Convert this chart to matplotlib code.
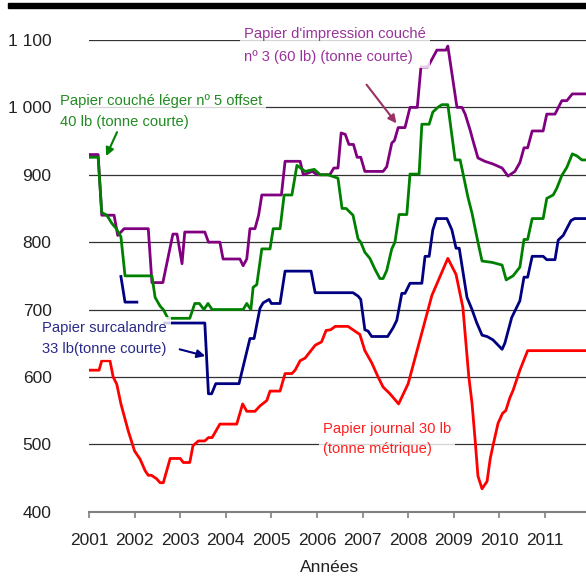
import numpy as np
import matplotlib
matplotlib.use("Agg")
import matplotlib.pyplot as plt
from matplotlib.patches import Rectangle

plt.rcParams['font.family'] = ['Liberation Sans Narrow', 'Liberation Sans', 'DejaVu Sans']

nan = np.nan

# Papier d'impression couché n° 3 (60 lb)
purple_x = [2001.02, 2001.2, 2001.28, 2001.55, 2001.63, 2001.77, 2002.3, 2002.38, 2002.62, 2002.84,
            2002.93, 2003.04, 2003.1, 2003.54, 2003.62, 2003.87, 2003.94, 2004.31, 2004.38, 2004.46,
            2004.53, 2004.64, 2004.72, 2004.79, 2005.22, 2005.3, 2005.63, 2005.7, 2005.9, 2006.0,
            2006.28, 2006.37, 2006.46, 2006.53, 2006.62, 2006.7, 2006.8, 2006.88, 2006.96, 2007.05,
            2007.45, 2007.53, 2007.64, 2007.7, 2007.78, 2007.93, 2008.04, 2008.2, 2008.28, 2008.43,
            2008.63, 2008.83, 2008.87, 2009.07, 2009.18, 2009.25, 2009.36, 2009.42, 2009.53, 2009.68,
            2009.86, 2010.06, 2010.19, 2010.34, 2010.45, 2010.54, 2010.62, 2010.72, 2010.96, 2011.04,
            2011.22, 2011.37, 2011.48, 2011.6, 2011.9]
purple_y = [930, 930, 840, 840, 810, 820, 820, 740, 740, 812,
            812, 768, 815, 815, 800, 800, 775, 775, 765, 775,
            820, 820, 840, 870, 870, 920, 920, 900, 905, 900,
            900, 910, 910, 962, 960, 945, 945, 926, 926, 905,
            905, 912, 947, 951, 970, 970, 1000, 1000, 1060, 1060,
            1085, 1085, 1091, 1000, 1000, 990, 966, 951, 925, 920,
            916, 910, 898, 905, 918, 940, 940, 965, 965, 990,
            990, 1010, 1010, 1020, 1020]

# Papier couché léger n° 5 offset 40 lb
green_x = [2001.02, 2001.2, 2001.28, 2001.39, 2001.5, 2001.6, 2001.7, 2001.79, 2002.38, 2002.45,
           2002.56, 2002.63, 2002.73, 2003.21, 2003.32, 2003.42, 2003.52, 2003.61, 2003.7, 2004.38,
           2004.46, 2004.55, 2004.6, 2004.68, 2004.79, 2004.97, 2005.04, 2005.19, 2005.28, 2005.45,
           2005.56, 2005.74, 2005.94, 2006.07, 2006.24, 2006.46, 2006.55, 2006.64, 2006.79, 2006.9,
           2006.96, 2007.05, 2007.16, 2007.27, 2007.38, 2007.45, 2007.53, 2007.64, 2007.71, 2007.8,
           2007.97, 2008.04, 2008.24, 2008.3, 2008.46, 2008.54, 2008.65, 2008.74, 2008.87, 2009.03,
           2009.14, 2009.31, 2009.4, 2009.53, 2009.62, 2009.84, 2010.06, 2010.15, 2010.3, 2010.45,
           2010.54, 2010.62, 2010.72, 2010.96, 2011.04, 2011.18, 2011.26, 2011.37, 2011.48, 2011.6,
           2011.7, 2011.81, 2011.9]
green_y = [926, 926, 844, 840, 828, 820, 808, 750, 750, 718,
           705, 700, 687, 687, 709, 709, 700, 709, 700, 700,
           709, 700, 733, 737, 790, 790, 820, 820, 870, 870,
           914, 905, 908, 900, 900, 895, 850, 850, 840, 805,
           800, 785, 776, 760, 746, 746, 758, 790, 800, 841,
           841, 901, 901, 975, 975, 993, 1000, 1004, 1004, 922,
           922, 867, 843, 800, 772, 770, 766, 744, 750, 763,
           804, 804, 835, 835, 865, 870, 880, 899, 911, 931,
           928, 922, 922]

# Papier surcalandré 33 lb
blue_x = [2001.7, 2001.79, 2002.05, 2002.3, 2002.66, 2003.54, 2003.62, 2003.69, 2003.78, 2004.29,
          2004.53, 2004.62, 2004.75, 2004.82, 2004.95, 2005.0, 2005.19, 2005.3, 2005.87, 2005.96,
          2006.79, 2006.9, 2006.96, 2007.05, 2007.12, 2007.2, 2007.55, 2007.67, 2007.75, 2007.86,
          2007.93, 2008.04, 2008.3, 2008.37, 2008.46, 2008.54, 2008.62, 2008.85, 2008.96, 2009.05,
          2009.12, 2009.29, 2009.4, 2009.5, 2009.62, 2009.73, 2009.86, 2010.06, 2010.12, 2010.27,
          2010.45, 2010.54, 2010.62, 2010.72, 2010.96, 2011.04, 2011.22, 2011.29, 2011.4, 2011.57,
          2011.65, 2011.9]
blue_y = [749, 711, 711, nan, 680, 680, 575, 575, 590, 590,
          657, 657, 702, 710, 715, 709, 709, 757, 757, 725,
          725, 720, 715, 670, 668, 660, 660, 673, 684, 724,
          724, 739, 739, 779, 779, 818, 835, 835, 818, 791,
          791, 718, 700, 681, 662, 660, 655, 641, 650, 688,
          713, 748, 748, 779, 779, 774, 774, 803, 810, 832,
          835, 835]

# Papier journal 30 lb
red_x = [2001.02, 2001.22, 2001.28, 2001.46, 2001.53, 2001.61, 2001.7, 2001.86, 2002.0, 2002.12,
         2002.23, 2002.3, 2002.37, 2002.48, 2002.56, 2002.63, 2002.78, 2003.0, 2003.07, 2003.21,
         2003.28, 2003.4, 2003.54, 2003.62, 2003.7, 2003.87, 2004.24, 2004.37, 2004.46, 2004.64,
         2004.75, 2004.9, 2004.97, 2005.19, 2005.3, 2005.45, 2005.52, 2005.63, 2005.74, 2005.96,
         2006.1, 2006.2, 2006.3, 2006.4, 2006.68, 2006.94, 2007.05, 2007.2, 2007.34, 2007.45,
         2007.6, 2007.79, 2008.0, 2008.52, 2008.87, 2009.05, 2009.2, 2009.33, 2009.4, 2009.47,
         2009.53, 2009.62, 2009.73, 2009.8, 2009.86, 2009.97, 2010.07, 2010.14, 2010.23, 2010.3,
         2010.45, 2010.62, 2011.9]
red_y = [610, 610, 624, 624, 600, 589, 560, 520, 490, 478,
         461, 454, 454, 449, 443, 443, 479, 479, 473, 473,
         498, 505, 505, 510, 510, 530, 530, 560, 549, 549,
         557, 565, 579, 579, 605, 605, 610, 624, 628, 647,
         652, 669, 670, 675, 675, 663, 639, 621, 600, 585,
         575, 560, 590, 721, 776, 752, 703, 600, 561, 505,
         453, 434, 445, 479, 498, 531, 546, 550, 569, 580,
         610, 639, 639]

years = list(range(2001, 2012))
yticks = [400, 500, 600, 700, 800, 900, 1000, 1100]
ytick_labels = ['400', '500', '600', '700', '800', '900', '1 000', '1 100']

fig = plt.figure(figsize=(5.86, 5.78), dpi=100)
ax = fig.add_axes([89 / 586, 1 - 511.7 / 578, 497 / 586, 471.7 / 578])

ax.plot(purple_x, purple_y, color='#800080', lw=2)
ax.plot(green_x, green_y, color='#008000', lw=2)
ax.plot(blue_x, blue_y, color='#000080', lw=2)
ax.plot(red_x, red_y, color='#ff0000', lw=2)

ax.set_xlim(2001, 2011.9)
ax.set_ylim(400, 1100)
ax.set_xticks(years)
ax.set_xticklabels([str(y) for y in years])
ax.set_yticks(yticks)
ax.set_yticklabels(ytick_labels)
ax.tick_params(axis='y', length=0, pad=27, labelsize=12.5, colors='#222222')
ax.tick_params(axis='x', length=4, direction='out', pad=11, labelsize=12.5,
               color='#808080', labelcolor='#222222', width=1.2)
ax.yaxis.grid(True, color='#333333', lw=0.9)
ax.set_axisbelow(True)
for s in ['top', 'right', 'left']:
    ax.spines[s].set_visible(False)
ax.spines['bottom'].set_color('#808080')
ax.spines['bottom'].set_linewidth(1.5)

ax.set_xlabel('Années', fontsize=12.5, color='#222222')
ax.xaxis.set_label_coords((330 - 89) / 497, (511.7 - 567) / 471.7)
ax.xaxis.label.set_va('center')

box = dict(facecolor='white', alpha=0.8, edgecolor='none', pad=3)

ax.text(2004.40, 1092, "Papier d'impression couché\nnº 3 (60 lb) (tonne courte)", color='#993399',
        fontsize=10.6, ha='left', va='center', linespacing=1.75, bbox=box, zorder=5)
ax.text(2000.36, 994, "Papier couché léger nº 5 offset\n40 lb (tonne courte)", color='#228B22',
        fontsize=10.6, ha='left', va='center', linespacing=1.6, bbox=box, zorder=5)
ax.text(1999.97, 657, "Papier surcalandre\n33 lb(tonne courte)", color='#2a2a8a',
        fontsize=10.6, ha='left', va='center', linespacing=1.6, bbox=box, zorder=5)
ax.text(2006.13, 508, "Papier journal 30 lb\n(tonne métrique)", color='#ff2020',
        fontsize=10.6, ha='left', va='center', linespacing=1.6, bbox=box, zorder=5)

ax.annotate('', xy=(2007.78, 973), xytext=(2007.05, 1037),
            arrowprops=dict(arrowstyle='-|>', color='#993366', lw=1.5, mutation_scale=12), zorder=6)
ax.annotate('', xy=(2001.35, 924), xytext=(2001.64, 967),
            arrowprops=dict(arrowstyle='-|>', color='#008000', lw=1.5, mutation_scale=12), zorder=6)
ax.annotate('', xy=(2003.61, 630), xytext=(2002.93, 642),
            arrowprops=dict(arrowstyle='-|>', color='#000080', lw=1.5, mutation_scale=12), zorder=6)

fig.add_artist(Rectangle((8 / 586, 1 - 7.5 / 578), 578 / 586, 4.5 / 578,
                         transform=fig.transFigure, color='black'))

fig.savefig('out.png', dpi=100)
